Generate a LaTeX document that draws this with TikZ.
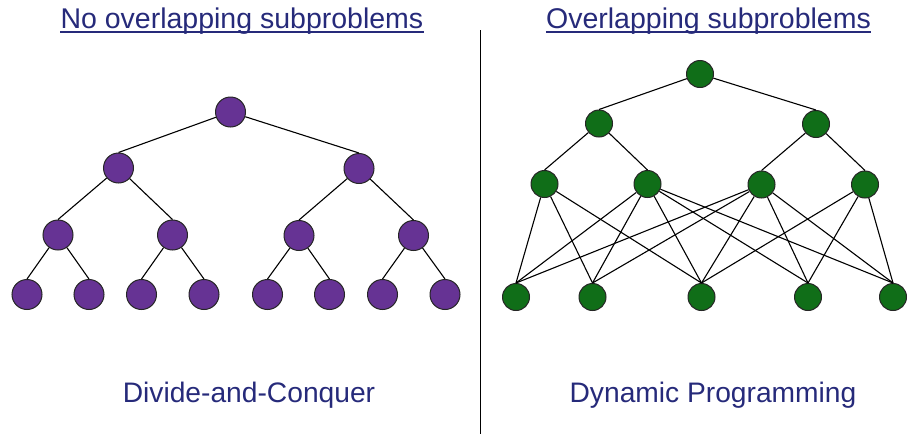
\documentclass[tikz,border=0pt]{standalone}
\usepackage{fontspec}
\setmainfont{Liberation Sans}
\usepackage{xcolor}
\usepackage{tikz}
\definecolor{navy}{RGB}{38,42,122}
\definecolor{dcpurple}{RGB}{102,51,148}
\definecolor{dpgreen}{RGB}{16,110,24}

\begin{document}
\begin{tikzpicture}[
    x=1pt, y=-1pt,
    dcnode/.style={circle, draw=black!85, fill=dcpurple, minimum size=30pt, inner sep=0pt, line width=1pt},
    dpnode/.style={circle, draw=black!85, fill=dpgreen, minimum size=27pt, inner sep=0pt, line width=1pt},
    edge/.style={draw, line width=1.1pt},
    title/.style={text=navy, inner sep=0pt, anchor=base, font=\fontsize{28.5}{34}\selectfont},
    algname/.style={text=navy, inner sep=0pt, anchor=base, font=\fontsize{28.2}{34}\selectfont},
    uline/.style={draw=navy, line width=1.5pt}
]
\useasboundingbox (0,0) rectangle (917,434);

% titles and divider
\node[title] (t1) at (241.9,28.3) {No overlapping subproblems};
\node[title] (t2) at (708.5,28.3) {Overlapping subproblems};
\draw[uline] ([yshift=-3.6pt]t1.base west) -- ([yshift=-3.6pt]t1.base east);
\draw[uline] ([yshift=-3.6pt]t2.base west) -- ([yshift=-3.6pt]t2.base east);
\coordinate (divtop) at (480.5,30);
\coordinate (divbot) at (480.5,434);
\draw[line width=1.1pt] (divtop) -- (divbot);

\node[algname] (dc) at (249,402.7) {Divide-and-Conquer};
\node[algname] (dp) at (713,402.7) {Dynamic Programming};

% divide-and-conquer tree
\node[dcnode] (r) at (230.5,112) {};
\node[dcnode] (a) at (118.5,168) {};
\node[dcnode] (b) at (359,168.5) {};
\node[dcnode] (a1) at (58,235) {};
\node[dcnode] (a2) at (172.5,235) {};
\node[dcnode] (b1) at (299,235.5) {};
\node[dcnode] (b2) at (413.5,235.5) {};
\node[dcnode] (l1) at (27,294.5) {};
\node[dcnode] (l2) at (89,294.5) {};
\node[dcnode] (l3) at (141.5,294.5) {};
\node[dcnode] (l4) at (204,294.5) {};
\node[dcnode] (l5) at (267.5,294.5) {};
\node[dcnode] (l6) at (329.5,294.5) {};
\node[dcnode] (l7) at (382.5,294.5) {};
\node[dcnode] (l8) at (445,294.5) {};

\draw[edge] (r) -- (a.north) (r) -- (b.north);
\draw[edge] (a) -- (a1.north) (a) -- (a2.north) (b) -- (b1.north) (b) -- (b2.north);
\draw[edge] (a1) -- (l1.north) (a1) -- (l2.north) (a2) -- (l3.north) (a2) -- (l4.north);
\draw[edge] (b1) -- (l5.north) (b1) -- (l6.north) (b2) -- (l7.north) (b2) -- (l8.north);

% dynamic programming graph
\node[dpnode] (R) at (700,74) {};
\node[dpnode] (A) at (599,123.5) {};
\node[dpnode] (B) at (816,124) {};
\node[dpnode] (C1) at (544.5,184) {};
\node[dpnode] (C2) at (647.5,184) {};
\node[dpnode] (C3) at (761.5,184.5) {};
\node[dpnode] (C4) at (865,184.5) {};
\node[dpnode] (D1) at (516,297) {};
\node[dpnode] (D2) at (592.5,297) {};
\node[dpnode] (D3) at (701.5,297) {};
\node[dpnode] (D4) at (808,297) {};
\node[dpnode] (D5) at (893,297) {};

\draw[edge] (R) -- (A.north) (R) -- (B.north);
\draw[edge] (A) -- (C1.north) (A) -- (C2.north) (B) -- (C3.north) (B) -- (C4.north);
\draw[edge] (C1) -- (D1.north) (C1) -- (D2.north) (C1) -- (D3.north);
\draw[edge] (C2) -- (D1.north) (C2) -- (D2.north) (C2) -- (D3.north) (C2) -- (D4.north) (C2) -- (D5.north);
\draw[edge] (C3) -- (D1.north) (C3) -- (D2.north) (C3) -- (D3.north) (C3) -- (D4.north) (C3) -- (D5.north);
\draw[edge] (C4) -- (D3.north) (C4) -- (D4.north) (C4) -- (D5.north);
\end{tikzpicture}
\end{document}
